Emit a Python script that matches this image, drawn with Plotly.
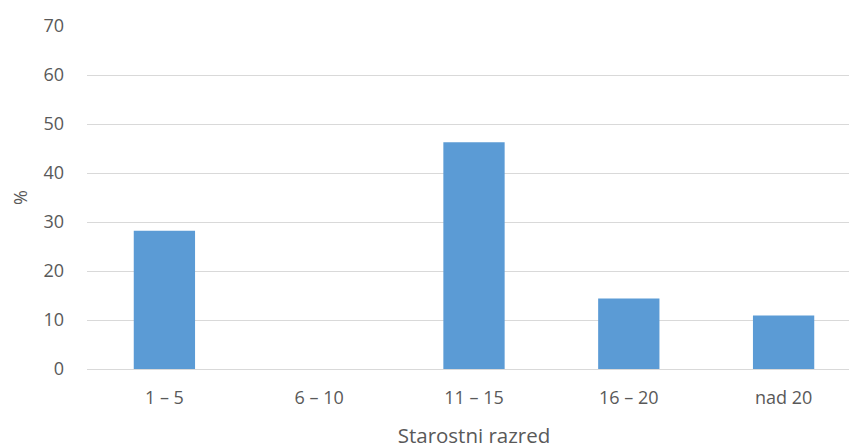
import plotly.graph_objects as go

categories = ["1 – 5", "6 – 10", "11 – 15", "16 – 20", "nad 20"]
values = [28.2, 0, 46.3, 14.4, 10.9]
y_ticks = [0, 10, 20, 30, 40, 50, 60, 70]

fig = go.Figure(go.Bar(
    x=categories, y=values,
    marker=dict(color="#5B9BD5", line=dict(width=0)),
    width=0.396,
))
font_family = "Open Sans, Liberation Sans, sans-serif"
fig.update_layout(
    width=857, height=448,
    margin=dict(l=78.5, r=3.5, t=18, b=87, autoexpand=False),
    paper_bgcolor="white", plot_bgcolor="white",
    font=dict(family=font_family, color="#595959", size=18),
    showlegend=False,
    xaxis=dict(
        automargin=False,
        title=dict(text="Starostni razred", font=dict(size=20.5, color="#595959"), standoff=20),
        showgrid=False, showline=False, ticks="", tickfont=dict(size=18), ticklabelstandoff=16,
    ),
    yaxis=dict(
        automargin=False,
        title=dict(text="%", font=dict(size=18, color="#595959"), standoff=14),
        range=[0, 70], tickvals=y_ticks, showgrid=True, gridcolor="#D9D9D9", gridwidth=1.3,
        zeroline=True, zerolinecolor="#D9D9D9", zerolinewidth=1.3,
        showline=False, ticks="", tickfont=dict(size=18), ticklabelstandoff=22,
    ),
)
fig.write_html("out.html")
